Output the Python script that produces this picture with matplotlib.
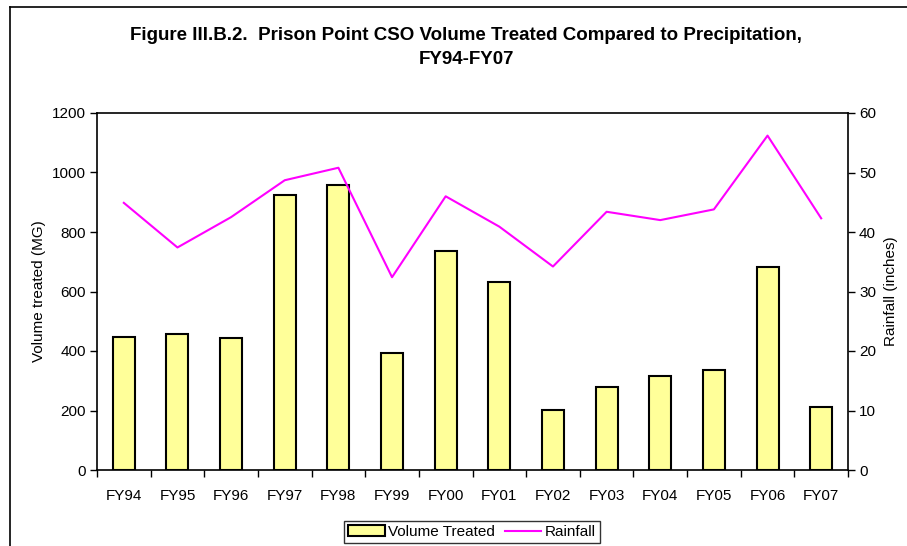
import matplotlib
matplotlib.use("Agg")
import matplotlib.pyplot as plt
from matplotlib.lines import Line2D
import numpy as np

categories = ["FY94", "FY95", "FY96", "FY97", "FY98", "FY99", "FY00",
              "FY01", "FY02", "FY03", "FY04", "FY05", "FY06", "FY07"]
volume_treated = [448, 458, 444, 924, 957, 394, 737, 632, 201, 280, 315, 337, 683, 211]
rainfall = [44.9, 37.4, 42.5, 48.7, 50.8, 32.4, 46.0, 40.9, 34.2, 43.4, 42.0, 43.8, 56.2, 42.3]
left_ticks = [0, 200, 400, 600, 800, 1000, 1200]
right_ticks = [0, 10, 20, 30, 40, 50, 60]

plt.rcParams['font.family'] = ['Liberation Sans', 'DejaVu Sans']

fig = plt.figure(figsize=(9.07, 5.46), dpi=100)
W, H = 907, 546

# outer frame (partial, as in reference)
fig.add_artist(Line2D([10 / W, 10 / W], [-0.1, 1 - 7 / H], transform=fig.transFigure,
                      color='black', lw=1.2))
fig.add_artist(Line2D([10 / W, 1.1], [1 - 7 / H, 1 - 7 / H], transform=fig.transFigure,
                      color='black', lw=1.2))

ax = fig.add_axes([97 / W, 1 - 470 / H, (848 - 97) / W, (470 - 113) / H])
x = np.arange(len(categories))
ax.bar(x, volume_treated, width=0.41, color='#FFFF99', edgecolor='black', linewidth=1.5,
       label='Volume Treated', zorder=2)
ax.set_xlim(-0.5, len(categories) - 0.5)
ax.set_ylim(0, 1200)
ax.set_yticks(left_ticks)
ax.set_xticks(x)
ax.set_xticklabels(categories)
ax.set_xticks(np.arange(-0.5, len(categories) + 0.5, 1), minor=True)
ax.tick_params(axis='x', which='major', length=0, pad=14, labelsize=11)
ax.tick_params(axis='x', which='minor', length=5, width=1, direction='out')
ax.tick_params(axis='y', length=5, width=1, direction='out', labelsize=11, pad=3)
ax.set_ylabel('Volume treated (MG)', fontsize=11, labelpad=4)
for s in ['top', 'right']:
    ax.spines[s].set_visible(False)
for s in ['left', 'bottom']:
    ax.spines[s].set_linewidth(1.2)

ax2 = ax.twinx()
ax2.plot(x, rainfall, color='#FF00FF', lw=1.5, label='Rainfall', zorder=3)
ax2.set_ylim(0, 60)
ax2.set_yticks(right_ticks)
ax2.tick_params(axis='y', length=5, width=1, direction='out', labelsize=11, pad=3)
ax2.set_ylabel('Rainfall (inches)', fontsize=11, labelpad=6)
for s in ['left', 'bottom']:
    ax2.spines[s].set_visible(False)
ax2.spines['top'].set_linewidth(1.2)
ax2.spines['right'].set_linewidth(1.2)

fig.text(466 / W, 1 - 36 / H,
         'Figure III.B.2.  Prison Point CSO Volume Treated Compared to Precipitation,',
         ha='center', va='center', fontsize=13.5, fontweight='bold')
fig.text(466 / W, 1 - 59 / H, 'FY94-FY07',
         ha='center', va='center', fontsize=13.5, fontweight='bold')

h1, l1 = ax.get_legend_handles_labels()
h2, l2 = ax2.get_legend_handles_labels()
leg = fig.legend(h1 + h2, l1 + l2, loc='center', bbox_to_anchor=(472 / W, 1 - 532 / H),
                 ncol=2, fontsize=11, frameon=True, fancybox=False, edgecolor='black',
                 handlelength=2.4, handleheight=0.7, columnspacing=0.6, handletextpad=0.25,
                 borderpad=0.25, borderaxespad=0)
leg.get_frame().set_linewidth(1.0)

fig.savefig('out.png', dpi=100)
